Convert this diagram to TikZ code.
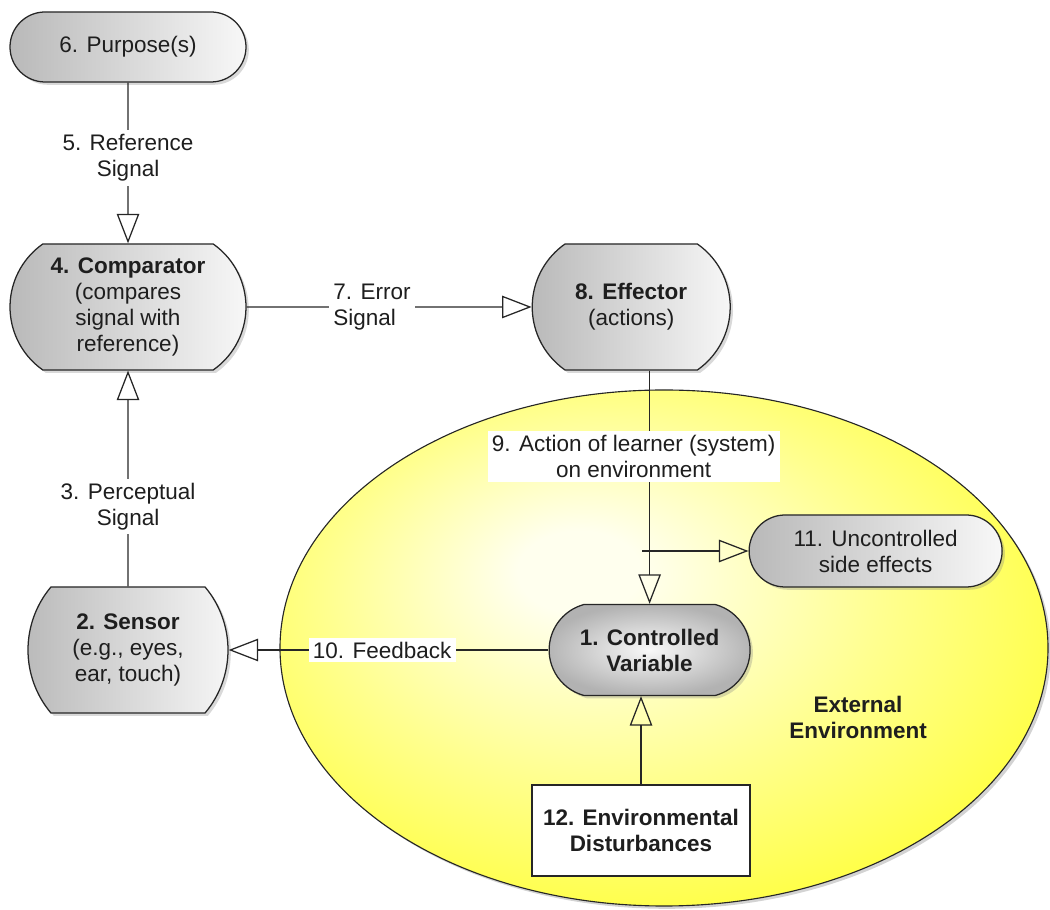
\documentclass[tikz,border=0pt]{standalone}
\usepackage{fontspec}
\setmainfont{Liberation Sans}
\usetikzlibrary{shapes.misc,arrows.meta,shadows}
\definecolor{envlight}{HTML}{FFFFEE}
\definecolor{envmid}{HTML}{FFFF90}
\definecolor{envyellow}{HTML}{FFFF2A}
\definecolor{inktext}{HTML}{1E1E1E}
\pgfdeclareradialshading{envshade}{\pgfpoint{-6bp}{8bp}}{color(0bp)=(envlight); color(4bp)=(envlight); color(18bp)=(envmid); color(34bp)=(envyellow); color(50bp)=(envyellow)}

\begin{document}
\begin{tikzpicture}[
  blocknode/.style={rounded rectangle,rounded rectangle arc length=110,draw=black!85,line width=0.9pt,
    left color=gray!55,right color=gray!6,drop shadow={opacity=0.3,shadow xshift=2pt,shadow yshift=-2pt},
    align=center,text=inktext,font=\fontsize{16}{18.5}\selectfont,inner sep=0pt},
  boxnode/.style={rectangle,draw=black!85,line width=0.9pt,fill=white,align=center,text=inktext,
    font=\bfseries\fontsize{16}{18.5}\selectfont,inner sep=0pt},
  flowline/.style={draw=black!85,line width=0.9pt,-{Triangle[open,length=21pt,width=16pt]}},
  flowlabel/.style={fill=white,align=center,text=inktext,font=\fontsize{16}{18.5}\selectfont,inner sep=3pt}]
\useasboundingbox (0,0) rectangle (26.25,22.725);
\shade [shading=envshade,draw=black!85,line width=0.8pt,drop shadow={opacity=0.35,shadow xshift=2pt,shadow yshift=-2pt}]
  (16.6,6.525) ellipse [x radius=9.6,y radius=6.45];
\node [blocknode,minimum width=5.9cm,minimum height=1.75cm,rounded rectangle arc length=180] (purpose) at (3.2,21.55) {6. Purpose(s)};
\node [blocknode,minimum width=5.9cm,minimum height=3.15cm] (comparator) at (3.2,15.05) {\textbf{4. Comparator}\\(compares\\signal with\\reference)};
\node [blocknode,minimum width=4.95cm,minimum height=3.15cm] (effector) at (15.78,15.05) {\textbf{8. Effector}\\(actions)};
\node [blocknode,minimum width=5cm,minimum height=3.15cm,rounded rectangle arc length=80] (sensor) at (3.2,6.475) {\textbf{2. Sensor}\\(e.g., eyes,\\ear, touch)};
\node [blocknode,minimum width=5.025cm,minimum height=2.275cm,rounded rectangle arc length=150,inner color=gray!5,outer color=gray!60] (ctrl) at (16.24,6.475) {\textbf{1. Controlled}\\\textbf{Variable}};
\node [blocknode,minimum width=6.325cm,minimum height=1.8cm,rounded rectangle arc length=180] (side) at (21.89,8.95) {11. Uncontrolled\\side effects};
\node [boxnode,minimum width=5.45cm,minimum height=2.275cm] (disturb) at (16.025,1.96) {12. Environmental\\Disturbances};
\node [align=center,text=inktext,font=\bfseries\fontsize{16}{18.5}\selectfont] (env) at (21.45,4.8) {External\\Environment};

\draw [flowline] (purpose) -- node [flowlabel,pos=0.47] {5. Reference\\Signal} (comparator);
\draw [flowline] (sensor) -- node [flowlabel,pos=0.37] {3. Perceptual\\Signal} (comparator);
\draw [flowline] (comparator) -- node [flowlabel,pos=0.44,align=left] {7. Error\\Signal} (effector);
\draw [flowline] (ctrl.north |- effector.south) -- node [flowlabel,pos=0.37,xshift=-0.4cm] {9. Action of learner (system)\\on environment} (ctrl.north);
\draw [flowline] ([xshift=-0.19cm]ctrl.north |- side.west) -- (side.west);
\draw [flowline] (ctrl) -- node [flowlabel,pos=0.52] {10. Feedback} (sensor);
\draw [flowline] (disturb.north) -- (disturb.north |- ctrl.south);
\end{tikzpicture}
\end{document}
